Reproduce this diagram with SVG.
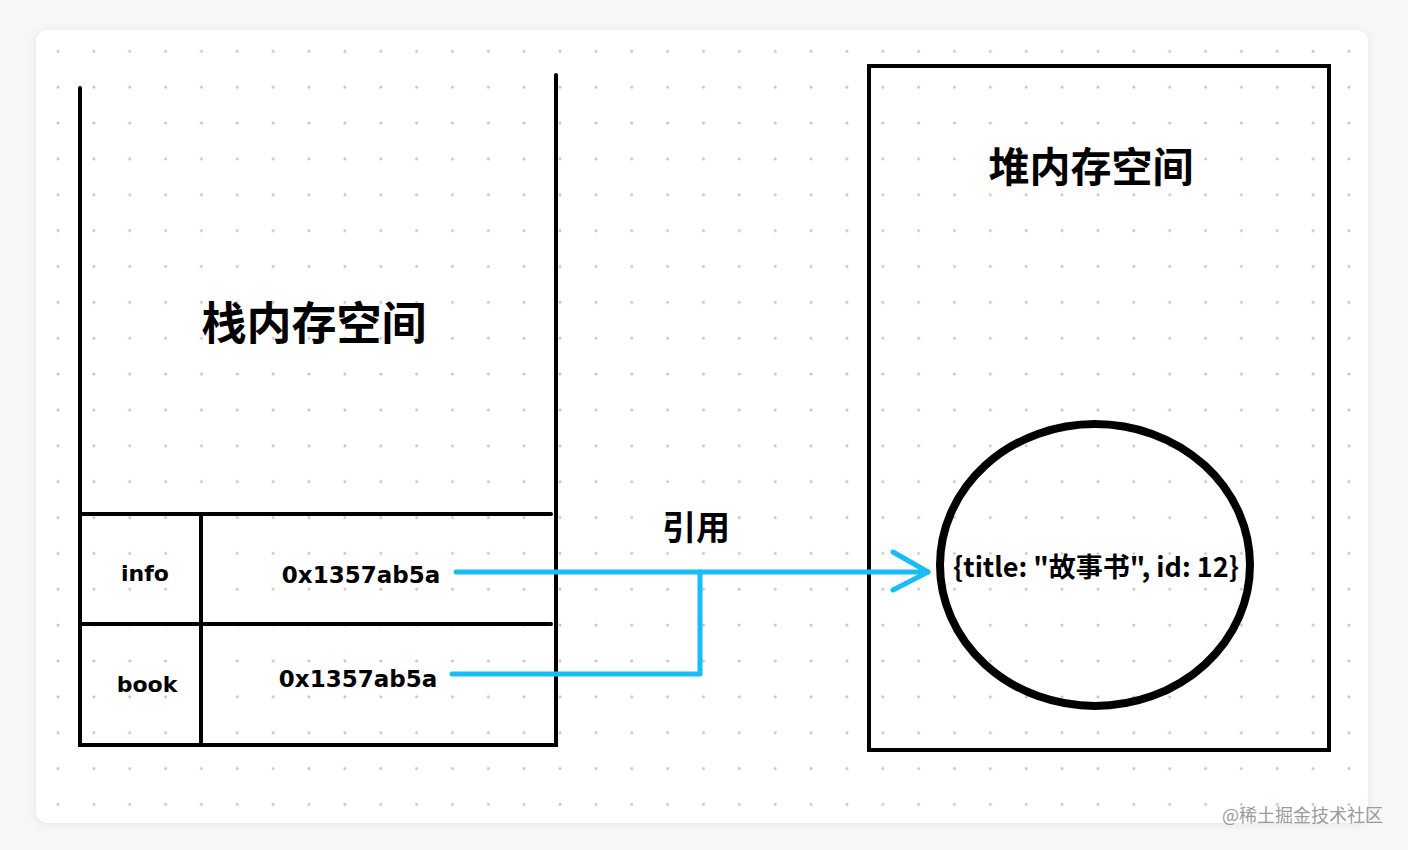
<svg xmlns="http://www.w3.org/2000/svg" width="1408" height="850" viewBox="0 0 1408 850">
  <style>
    .ln { stroke: #000; stroke-width: 4; fill: none; stroke-linecap: round; }
    .lbl { font-family: "DejaVu Sans", "Liberation Sans", sans-serif; font-weight: bold; fill: #000; text-anchor: middle; }
    .cjk { font-family: "Noto Sans CJK SC", "Noto Sans", sans-serif; font-weight: bold; fill: #000; text-anchor: middle; }
    .ref { stroke: #17bdf3; stroke-width: 5; fill: none; stroke-linecap: round; stroke-linejoin: round; }
  </style>
  <defs>
    <pattern id="dots" x="40.07" y="33.37" width="35.86" height="35.86" patternUnits="userSpaceOnUse">
      <circle cx="17.93" cy="17.93" r="1.5" fill="#c4c4c4"/>
    </pattern>
    <filter id="shadow" x="-5%" y="-5%" width="110%" height="110%">
      <feDropShadow dx="0" dy="1" stdDeviation="4" flood-color="#000" flood-opacity="0.08"/>
    </filter>
  </defs>
  <rect x="0" y="0" width="1408" height="850" fill="#f7f7f7"/>
  <rect id="card" x="36" y="30" width="1332" height="793" rx="12" fill="#fff" filter="url(#shadow)"/>
  <rect x="40" y="34" width="1324" height="785" fill="url(#dots)"/>

  <g id="stack">
    <path class="ln" d="M80 88 V745 H556 V75"/>
    <line class="ln" x1="82" y1="514" x2="551" y2="514"/>
    <line class="ln" x1="82" y1="624" x2="551" y2="624"/>
    <line class="ln" x1="201" y1="514" x2="201" y2="745"/>
    <text class="cjk" x="314" y="340" font-size="45">栈内存空间</text>
  </g>
  <g id="row-info">
    <text class="lbl" x="145" y="581" font-size="22">info</text>
    <text class="lbl" x="361" y="583" font-size="23">0x1357ab5a</text>
  </g>
  <g id="row-book">
    <text class="lbl" x="147" y="692" font-size="22">book</text>
    <text class="lbl" x="358" y="687" font-size="23">0x1357ab5a</text>
  </g>

  <g id="heap">
    <rect class="ln" x="869" y="66" width="460" height="684" stroke-linecap="butt"/>
    <text class="cjk" x="1091" y="182" font-size="41">堆内存空间</text>
  </g>
  <g id="object">
    <ellipse cx="1095" cy="565" rx="155" ry="141" fill="none" stroke="#000" stroke-width="8"/>
    <text class="cjk" x="1096" y="577" font-size="27">{title: "故事书", id: 12}</text>
  </g>

  <g id="connectors">
    <path class="ref" d="M456 572 H928"/>
    <path class="ref" d="M452 674 H700 V572"/>
    <path class="ref" d="M893 552 L928 572 L893 590"/>
    <text class="cjk" x="696" y="540" font-size="34" font-weight="500">引用</text>
  </g>

  <text x="1383" y="822" font-family="Noto Sans CJK SC, sans-serif" font-size="18" fill="#9a9a9a" text-anchor="end">@稀土掘金技术社区</text>
</svg>
